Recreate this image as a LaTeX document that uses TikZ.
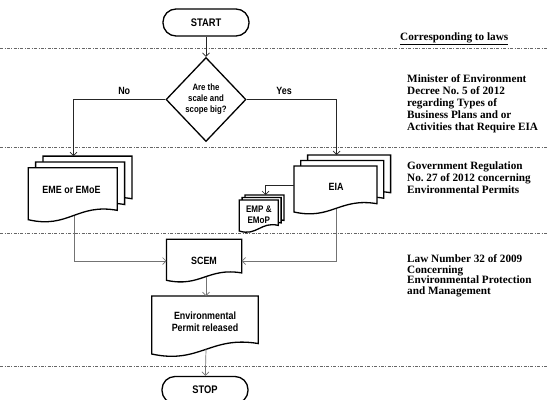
\documentclass[tikz,border=0pt]{standalone}
\usepackage{fontspec}
\setmainfont{Liberation Serif}
\newfontfamily\flowfont{Liberation Sans}[FakeStretch=0.85]
\usetikzlibrary{arrows.meta,shapes.geometric}
\frenchspacing

\tikzset{
  box/.style={draw=black, line width=1.3pt, fill=white},
  lbl/.style={font=\flowfont\bfseries\fontsize{10.5}{12}\selectfont, align=center},
  link/.style={draw=black!85, line width=0.7pt, -{Straight Barb[length=3.5pt,width=7pt]}},
  feed/.style={link, draw=black!55},
  zone/.style={draw=black!60, line width=0.6pt, dash pattern=on 3pt off 1.5pt on 0.8pt off 1.5pt},
  law/.style={font=\bfseries\fontsize{11.2}{12}\selectfont, align=left, anchor=west, inner sep=0pt}
}

% document symbol: top-left corner, width, height
\newcommand{\flowdoc}[4]{%
  \filldraw[box] ({#1},{#2}) -- ({#1+#3},{#2}) -- ({#1+#3},{#2+0.82*#4})
    .. controls ({#1+0.55*#3},{#2+0.68*#4}) and ({#1+0.45*#3},{#2+1.18*#4}) .. ({#1},{#2+#4}) -- cycle;}
% stack of three documents, offset dx, dy
\newcommand{\flowdocs}[6]{%
  \foreach \k in {2,1,0} {\flowdoc{#1+\k*#5}{#2-\k*#6}{#3}{#4}}}

\begin{document}
\begin{tikzpicture}[x=1pt,y=-1pt]
\useasboundingbox (0,0) rectangle (548,399);
\clip (0,0) rectangle (548,399);

\foreach \y in {48,147,233,366} {
  \draw[zone] (0,\y) -- (548,\y);
}

% start and decision
\node[box, lbl, rounded corners=13pt, minimum width=86pt, minimum height=27pt, font=\flowfont\bfseries\fontsize{11}{12}\selectfont] (start) at (206,22.5) {START};
\node[box, lbl, diamond, minimum width=80pt, minimum height=84pt, inner sep=0pt, font=\flowfont\bfseries\fontsize{9.2}{11}\selectfont] (dec) at (206,99.5) {Are the\\scale and\\scope big?};

% studies
\flowdocs{28.3}{167.7}{89}{52}{7.3}{5.8}
\node[lbl] (eme) at (71.5,189.5) {EME or EMoE};
\coordinate (emeIn) at (73.5,156.1);
\coordinate (emeOut) at (74,216);

\flowdocs{294}{166}{83}{46}{6.8}{5.5}
\node[lbl] (eia) at (336,187) {EIA};
\coordinate (eiaIn) at (336.7,155);
\coordinate (eiaSide) at (294,185);
\coordinate (eiaOut) at (336.7,208.5);

\flowdocs{239.3}{200}{39}{31}{2.8}{2.5}
\node[lbl, font=\flowfont\bfseries\fontsize{9.5}{11}\selectfont] (emp) at (258.8,214.5) {EMP \&\\EMoP};
\coordinate (empIn) at (265.5,195);

% review and permit
\flowdoc{166.5}{239.3}{75.2}{41}
\node[lbl] (scem) at (204,261) {SCEM};
\coordinate (scemL) at (166.5,261);
\coordinate (scemR) at (241.7,261);
\coordinate (scemOut) at (206,277);

\flowdoc{151.7}{296}{106.6}{58}
\node[lbl] (permit) at (205,322) {Environmental\\Permit released};
\coordinate (permitIn) at (206,296);
\coordinate (permitOut) at (206,349);

\node[box, lbl, rounded corners=13pt, minimum width=86pt, minimum height=27pt, font=\flowfont\bfseries\fontsize{11}{12}\selectfont] (stop) at (205,390) {STOP};

% connectors
\draw[link] (start) -- (dec);
\draw[link] (dec.west) -| node[lbl, pos=0.224, above=1pt] {No} (emeIn);
\draw[link] (dec.east) -| node[lbl, pos=0.208, above=1pt] {Yes} (eiaIn);
\draw[link] (eiaSide) -| (empIn);
\draw[feed] (emeOut) |- (scemL);
\draw[feed] (eiaOut) |- (scemR);
\draw[feed] (scemOut) -- (permitIn);
\draw[feed] (permitOut) -- (stop);

% legal basis column
\node[law] (lawHead) at (400,39) {\underline{Corresponding to laws}};
\node[law] (decree) at (407,104) {Minister of Environment\\Decree No. 5 of 2012\\regarding Types of\\Business Plans and or\\Activities that Require EIA};
\node[law] (permitLaw) at (407,178) {Government Regulation\\No. 27 of 2012 concerning\\Environmental Permits};
\node[law, font=\bfseries\fontsize{11.2}{10.5}\selectfont] (actLaw) at (407,276) {Law Number 32 of 2009\\Concerning\\Environmental Protection\\and Management};

\end{tikzpicture}
\end{document}
